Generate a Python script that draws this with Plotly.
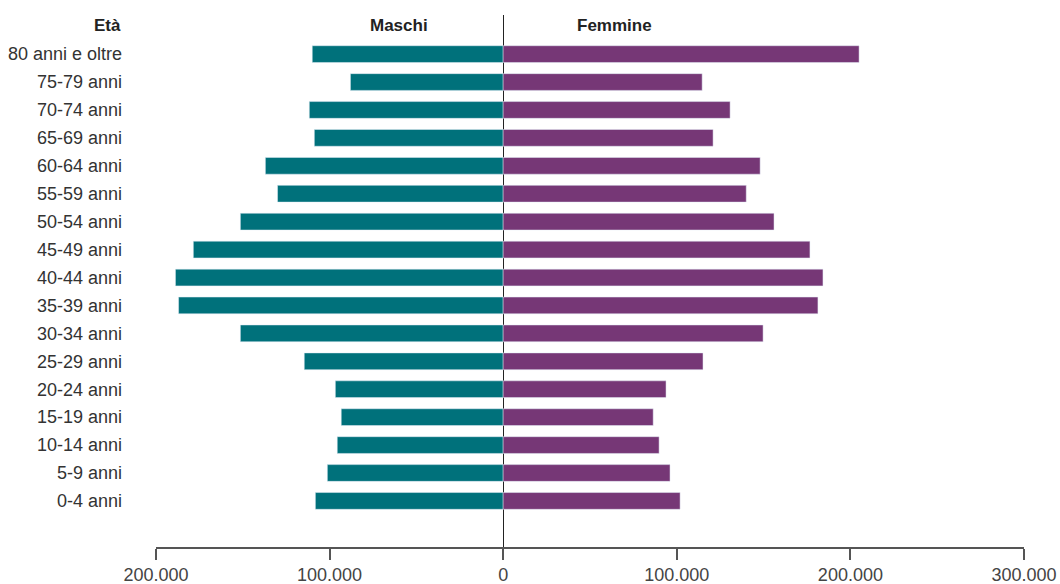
import plotly.graph_objects as go

# classi di età, dal basso verso l'alto
eta = [
    "0-4 anni", "5-9 anni", "10-14 anni", "15-19 anni", "20-24 anni",
    "25-29 anni", "30-34 anni", "35-39 anni", "40-44 anni", "45-49 anni",
    "50-54 anni", "55-59 anni", "60-64 anni", "65-69 anni", "70-74 anni",
    "75-79 anni", "80 anni e oltre",
]
maschi = [
    108200, 101300, 95600, 93300, 96700,
    114600, 151400, 187000, 188800, 178500,
    151400, 130000, 137000, 108800, 111700,
    88000, 110000,
]
femmine = [
    101900, 96100, 89800, 86400, 93800,
    115100, 149700, 181300, 184200, 176700,
    156000, 140000, 148000, 120900, 130700,
    114600, 205000,
]
x_ticks = [-200000, -100000, 0, 100000, 200000, 300000]
x_labels = [f"{abs(v):,}".replace(",", ".") for v in x_ticks]

font = "Liberation Sans, Arial, sans-serif"

fig = go.Figure()
fig.add_trace(go.Bar(
    y=eta, x=[-v for v in maschi], orientation="h", name="Maschi",
    marker_color="#00717b", width=0.6,
))
fig.add_trace(go.Bar(
    y=eta, x=femmine, orientation="h", name="Femmine",
    marker_color="#763776", width=0.6,
))

fig.update_layout(
    barmode="relative",
    width=1060, height=584,
    margin=dict(l=156, r=36, t=15, b=37),
    plot_bgcolor="white", paper_bgcolor="white",
    showlegend=False,
    font=dict(family=font, size=18, color="#333333"),
    xaxis=dict(
        range=[-200000, 300000],
        tickvals=x_ticks, ticktext=x_labels,
        showgrid=False, automargin=False,
        zeroline=True, zerolinecolor="#222222", zerolinewidth=1,
        showline=True, linecolor="#555555", linewidth=1.5,
        ticks="outside", ticklen=11, tickcolor="#555555", tickwidth=1.5,
        ticklabelstandoff=0,
        tickfont=dict(size=18, color="#444444"),
    ),
    yaxis=dict(
        categoryorder="array", categoryarray=eta,
        range=[-1.65, 17.4],
        showgrid=False, zeroline=False, showline=False, automargin=False,
        ticks="", ticklabelstandoff=33,
        tickfont=dict(size=18, color="#333333"),
    ),
)

header = dict(family=font, size=17, color="#222222")
fig.add_annotation(text="<b>Età</b>", xref="paper", yref="y", x=-0.038, y=17.04,
                   xanchor="right", yanchor="middle", showarrow=False, font=header)
fig.add_annotation(text="<b>Maschi</b>", xref="x", yref="y", x=-60000, y=17.04,
                   xanchor="center", yanchor="middle", showarrow=False, font=header)
fig.add_annotation(text="<b>Femmine</b>", xref="x", yref="y", x=64000, y=17.04,
                   xanchor="center", yanchor="middle", showarrow=False, font=header)

# drop the default body margin so the figure fills the window exactly
fig.write_html(
    "out.html",
    config={"displayModeBar": False},
    post_script="document.body.style.margin = '0';",
)
